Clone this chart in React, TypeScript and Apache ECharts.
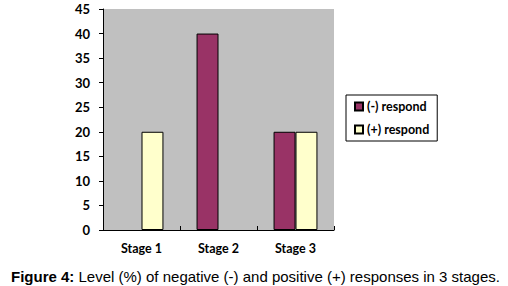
import React, { useEffect, useRef } from "react";
import * as echarts from "echarts";

const categories = ["Stage 1", "Stage 2", "Stage 3"];
const negativeRespond = [0, 40, 20];
const positiveRespond = [20, 0, 20];
const seriesNames = ["(-) respond", "(+) respond"];

const toData = (vals: number[]) =>
  vals.map((v) => (v === 0 ? { value: v, itemStyle: { borderWidth: 0 } } : v));

export default function App() {
  const ref = useRef<HTMLDivElement>(null);
  useEffect(() => {
    document.body.style.margin = "0";
    const chart = echarts.init(ref.current!, null, { renderer: "svg" });
    const font = "Lato, 'Open Sans', sans-serif";
    chart.setOption({
      animation: false,
      backgroundColor: "#ffffff",
      title: {
        left: 6,
        top: 264,
        text: "{b|Figure 4:} Level (%) of negative (-) and positive (+) responses in 3 stages.",
        textStyle: {
          fontFamily: "'Liberation Sans', Arial, sans-serif",
          fontSize: 15,
          fontWeight: "normal",
          color: "#000",
          rich: {
            b: {
              fontFamily: "'Liberation Sans', Arial, sans-serif",
              fontSize: 15,
              fontWeight: "bold",
              color: "#000",
            },
          },
        },
      },
      legend: {
        orient: "vertical",
        left: 346,
        top: 95,
        width: 90,
        borderColor: "#000",
        borderWidth: 1,
        padding: [5, 8, 5, 8],
        itemWidth: 8,
        itemHeight: 8,
        itemGap: 10,
        icon: "rect",
        data: seriesNames,
        textStyle: {
          fontFamily: font,
          fontSize: 12.5,
          fontWeight: "bold",
          color: "#000",
          padding: [0, 0, 0, -1],
        },
      },
      grid: {
        left: 103,
        top: 9,
        width: 231,
        height: 221,
        show: true,
        backgroundColor: "#C0C0C0",
        borderWidth: 0,
        containLabel: false,
      },
      xAxis: {
        type: "category",
        data: categories,
        axisLine: { show: true, lineStyle: { color: "#000", width: 1 } },
        axisTick: { show: true, inside: true, length: 4, lineStyle: { color: "#000" } },
        axisLabel: {
          margin: 12,
          fontFamily: font,
          fontSize: 12.5,
          fontWeight: "bold",
          color: "#000",
        },
        splitLine: { show: false },
      },
      yAxis: {
        type: "value",
        min: 0,
        max: 45,
        interval: 5,
        axisLine: { show: true, lineStyle: { color: "#000", width: 1 } },
        axisTick: { show: true, inside: false, length: 4, lineStyle: { color: "#000" } },
        axisLabel: {
          margin: 13,
          fontFamily: font,
          fontSize: 13,
          fontWeight: "bold",
          color: "#000",
        },
        splitLine: { show: false },
      },
      series: [
        {
          name: seriesNames[0],
          type: "bar",
          data: toData(negativeRespond),
          barGap: "0%",
          barCategoryGap: "43%",
          itemStyle: { color: "#993366", borderColor: "#000", borderWidth: 1 },
        },
        {
          name: seriesNames[1],
          type: "bar",
          data: toData(positiveRespond),
          barGap: "0%",
          barCategoryGap: "43%",
          itemStyle: { color: "#FFFFCC", borderColor: "#000", borderWidth: 1 },
        },
      ],
    });
    return () => chart.dispose();
  }, []);
  return <div ref={ref} style={{ width: 508, height: 286 }} />;
}
